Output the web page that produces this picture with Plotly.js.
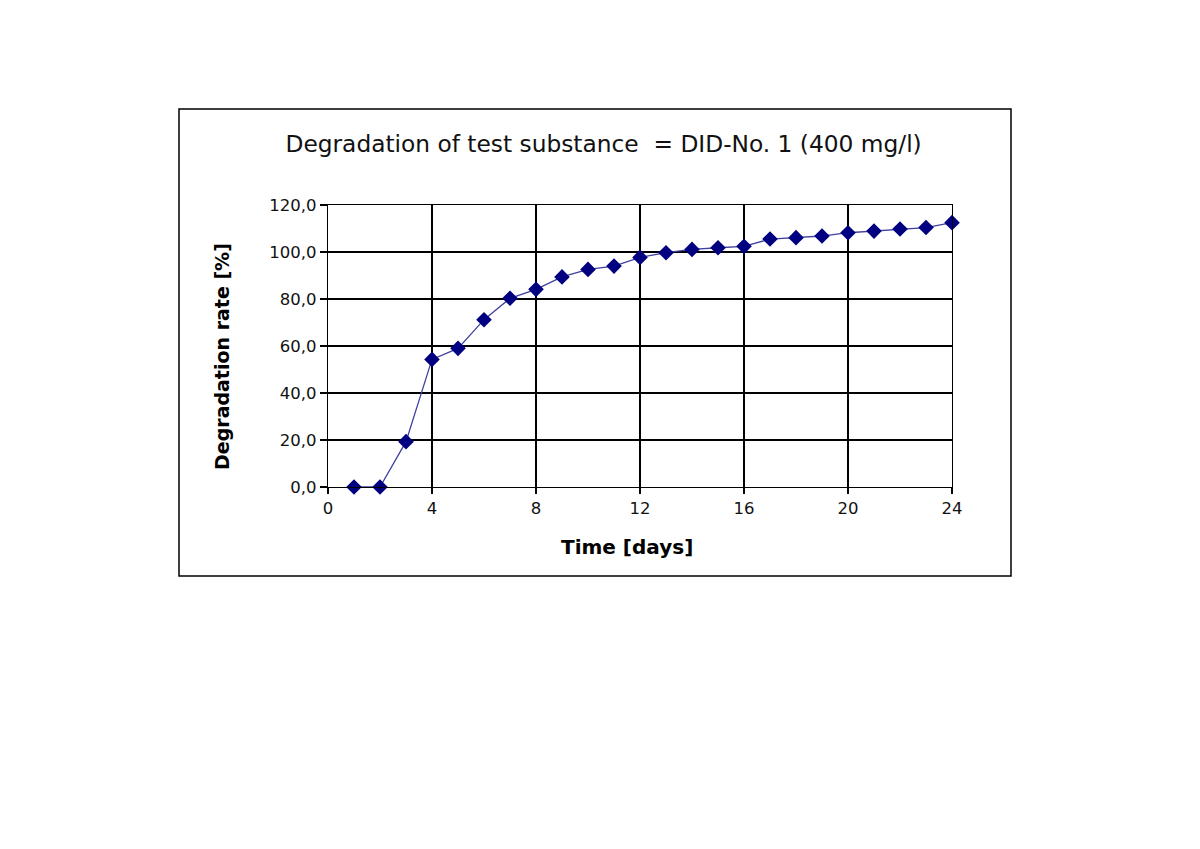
<!DOCTYPE html>
<html>
<head>
<meta charset="utf-8">
<script src="https://cdn.plot.ly/plotly-3.0.1.min.js"></script>
<style>html,body{margin:0;padding:0;background:#fff;}#chart{width:1200px;height:849px;}</style>
</head>
<body>
<div id="chart"></div>
<script>
const days = [1,2,3,4,5,6,7,8,9,10,11,12,13,14,15,16,17,18,19,20,21,22,23,24];
const degradation = [0,0,19.3,54.3,59.0,71.2,80.3,84.1,89.4,92.6,94.0,97.7,99.7,101.1,101.8,102.4,105.5,106.1,106.8,108.2,108.9,109.8,110.4,112.5];
const xTicks = [0,4,8,12,16,20,24];
const yTicks = [0,20,40,60,80,100,120];
const chartTitle = "Degradation of test substance  = DID-No. 1 (400 mg/l)";
const xTitle = "Time [days]";
const yTitle = "Degradation rate [%]";

const FONT = "DejaVu Sans, Liberation Sans, Arial, sans-serif";

const trace = {
  x: days, y: degradation, type: "scatter", mode: "lines+markers",
  line: {color: "#4040a0", width: 1.3},
  marker: {symbol: "diamond", size: 12, color: "#000080", line: {width: 0}},
  cliponaxis: false, showlegend: false, hoverinfo: "x+y"
};

const PL = 328, PR = 952, PT = 205, PB = 487;
const pw = PR - PL, ph = PB - PT;

const layout = {
  width: 1200, height: 849,
  paper_bgcolor: "#ffffff", plot_bgcolor: "#ffffff",
  separators: ",.",
  margin: {l: PL, r: 1200 - PR, t: PT, b: 849 - PB, pad: 0},
  title: {text: chartTitle, x: 0.503, xanchor: "center", y: 1 - 144/849, yanchor: "middle",
          font: {family: FONT, size: 23.3, color: "#111"}},
  xaxis: {
    range: [0, 24], tickmode: "array", tickvals: xTicks, ticktext: xTicks.map(String),
    showgrid: true, gridcolor: "#000", gridwidth: 1.3, zeroline: false,
    showline: true, linecolor: "#000", linewidth: 1.3, mirror: true,
    ticks: "outside", ticklen: 6, tickcolor: "#000", tickwidth: 1.3,
    tickfont: {family: FONT, size: 16.5, color: "#111"},
    fixedrange: true
  },
  yaxis: {
    range: [0, 120], tickmode: "array", tickvals: yTicks, ticktext: yTicks.map(v => v.toFixed(1).replace(".", ",")),
    showgrid: true, gridcolor: "#000", gridwidth: 1.3, zeroline: false,
    showline: true, linecolor: "#000", linewidth: 1.3, mirror: true,
    ticks: "outside", ticklen: 7, tickcolor: "#000", tickwidth: 1.3,
    tickfont: {family: FONT, size: 16.5, color: "#111"},
    fixedrange: true
  },
  annotations: [
    {text: "<b>" + xTitle + "</b>", xref: "paper", yref: "paper",
     x: (627 - PL)/pw, y: (PB - 547)/ph, xanchor: "center", yanchor: "middle", showarrow: false,
     font: {family: FONT, size: 20, color: "#000"}},
    {text: "<b>" + yTitle + "</b>", xref: "paper", yref: "paper", textangle: -90,
     x: (222 - PL)/pw, y: (PB - 357)/ph, xanchor: "center", yanchor: "middle", showarrow: false,
     font: {family: FONT, size: 19, color: "#000"}}
  ],
  shapes: [{
    type: "rect", xref: "paper", yref: "paper",
    x0: (179-PL)/pw, x1: (1011-PL)/pw, y0: (PB-576)/ph, y1: (PB-109)/ph,
    line: {color: "#000", width: 1.5}, fillcolor: "rgba(0,0,0,0)", layer: "below"
  }]
};

Plotly.newPlot("chart", [trace], layout, {displayModeBar: false, staticPlot: true});
</script>
</body>
</html>
